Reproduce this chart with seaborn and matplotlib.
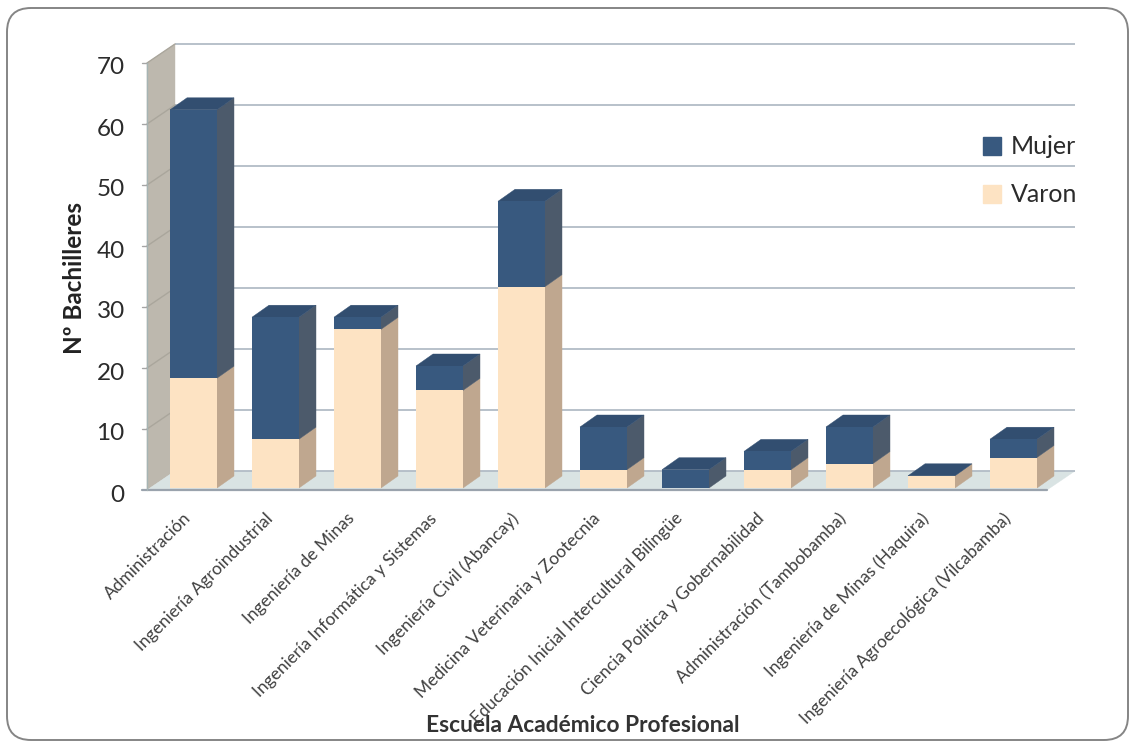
import matplotlib
matplotlib.use("Agg")
import matplotlib.pyplot as plt
import seaborn as sns
import pandas as pd
from matplotlib.patches import Polygon, FancyBboxPatch, Patch
from matplotlib.transforms import ScaledTranslation

categorias = ["Administración", "Ingeniería Agroindustrial", "Ingeniería de Minas",
              "Ingeniería Informática y Sistemas", "Ingeniería Civil (Abancay)",
              "Medicina Veterinaria y Zootecnia", "Educación Inicial Intercultural Bilingüe",
              "Ciencia Política y Gobernabilidad", "Administración (Tambobamba)",
              "Ingeniería de Minas (Haquira)", "Ingeniería Agroecológica (Vilcabamba)"]
varon = [18, 8, 26, 16, 33, 3, 0, 3, 4, 2, 5]
mujer = [44, 20, 2, 4, 14, 7, 3, 3, 6, 0, 3]
y_ticks = [0, 10, 20, 30, 40, 50, 60, 70]

W, H = 1134, 741
sns.set_theme(style="white")
plt.rcParams["font.family"] = ["Lato", "DejaVu Sans"]
fig = plt.figure(figsize=(W / 100, H / 100), dpi=100, facecolor="white")

# rounded frame
bg = fig.add_axes([0, 0, 1, 1], zorder=-1)
bg.set_xlim(0, W); bg.set_ylim(H, 0); bg.axis("off")
bg.add_patch(FancyBboxPatch((7, 8), 1121, 732, boxstyle="round,pad=0,rounding_size=24",
                            fc="white", ec="#858585", lw=1.4, clip_on=False))

L, R, B, T = 147, 1047, 488, 61
ax = fig.add_axes([L / W, 1 - B / H, (R - L) / W, (B - T) / H])
ax.patch.set_alpha(0)
PX = 82.0
PY = (B - T) / 70
x0 = -(193.5 - L) / PX

df = pd.DataFrame({"cat": categorias, "Varon": varon, "Mujer": mujer})
BW = 47 / PX
C_V, C_VS = "#fde3c3", "#bfa78f"
C_M, C_MS, C_MT = "#38597f", "#4c5a6b", "#324e70"

sns.barplot(data=df, x="cat", y="Varon", color=C_V, width=BW, saturation=1, ax=ax,
            zorder=4, order=categorias, linewidth=0)
sns.barplot(data=df, x="cat", y="Mujer", bottom=df["Varon"], color=C_M, width=BW, saturation=1,
            ax=ax, zorder=4, order=categorias, linewidth=0)
ax.set_xlim(x0, x0 + (R - L) / PX)
ax.set_ylim(0, 70)

wx, wy = 28 / PX, 17 / PY      # back wall offset from the bars' zero line
e = 2 / PY                     # front edge of the floor lies below the bars' base
dx, dy = 17 / PX, 12 / PY      # bar depth


def poly(pts, c, z):
    ax.add_patch(Polygon(pts, closed=True, fc=c, ec=c, lw=0.3, zorder=z, clip_on=False))


xa, xb = ax.get_xlim()
# left wall and floor
poly([(xa, -e), (xa + wx, wy), (xa + wx, 70 + wy), (xa, 70 - e)], "#bdb8ae", 1)
poly([(xa, -e), (xb, -e), (xb + wx, wy), (xa + wx, wy)], "#d9e3e3", 1)
for v in y_ticks:
    ax.plot([xa + wx, xb + wx], [v + wy, v + wy], color="#b2bcc6", lw=1.3, zorder=2, clip_on=False,
            solid_capstyle="butt")
    if v:
        ax.plot([xa, xa + wx], [v - e, v + wy], color="#aaa69c", lw=1, zorder=2, clip_on=False)
        ax.plot([xa - 5 / PX, xa], [v - e, v - e], color="#a5a5a5", lw=1, zorder=2, clip_on=False)
ax.plot([xa - 5 / PX, xb], [-e, -e], color="#9aa3ad", lw=1.6, zorder=3, clip_on=False)
ax.plot([xa, xa], [-e, 70 - e], color="#a6b4b4", lw=1, zorder=3, clip_on=False)

# depth faces of the bars
for i, (v, m) in enumerate(zip(varon, mujer)):
    r = i + BW / 2
    l = i - BW / 2
    t = v + m
    if v:
        poly([(r, 0), (r + dx, dy), (r + dx, v + dy), (r, v)], C_VS, 3.5)
    if m:
        poly([(r, v), (r + dx, v + dy), (r + dx, t + dy), (r, t)], C_MS, 3.5)
    poly([(l, t), (r, t), (r + dx, t + dy), (l + dx, t + dy)], C_MT, 3.5)

ax.set_xticks(range(len(categorias)))
ax.set_xticklabels(categorias, rotation=45, ha="right", va="top", rotation_mode="anchor",
                   fontsize=12.5, color="#404040")
ax.set_yticks(y_ticks)
ax.set_yticklabels([str(v) for v in y_ticks], fontsize=17.5, color="#2b2b2b")
ax.tick_params(axis="x", length=0, pad=16)
ax.tick_params(axis="y", length=0, pad=16)
shift_x = ScaledTranslation(-11 / 100, 0, fig.dpi_scale_trans)
shift_y = ScaledTranslation(0, -5 / 100, fig.dpi_scale_trans)
for lab in ax.get_xticklabels():
    lab.set_transform(lab.get_transform() + shift_x)
for lab in ax.get_yticklabels():
    lab.set_transform(lab.get_transform() + shift_y)
for s in ax.spines.values():
    s.set_visible(False)

ax.set_xlabel("Escuela Académico Profesional", fontsize=16.4, fontweight="bold", color="#333333")
ax.set_ylabel("Nº Bachilleres", fontsize=17.5, fontweight="bold", color="#222222")
ax.xaxis.set_label_coords((583 - L) / (R - L), -(725 - B) / (B - T), transform=ax.transAxes)
ax.xaxis.label.set_va("center")
ax.yaxis.set_label_coords((75 - L) / (R - L), (B - 278) / (B - T), transform=ax.transAxes)
ax.yaxis.label.set_va("center")

leg = ax.legend(handles=[Patch(color=C_M, label="Mujer"), Patch(color=C_V, label="Varon")],
                loc="center left", bbox_to_anchor=((983 - L) / (R - L), (B - 171) / (B - T)),
                frameon=False, fontsize=18, handlelength=0.7, handleheight=0.7,
                handletextpad=0.4, labelspacing=1.0, borderpad=0, borderaxespad=0)
for t in leg.get_texts():
    t.set_color("#2b2b2b")
leg.set_zorder(6)

fig.savefig("out.png", dpi=100)
